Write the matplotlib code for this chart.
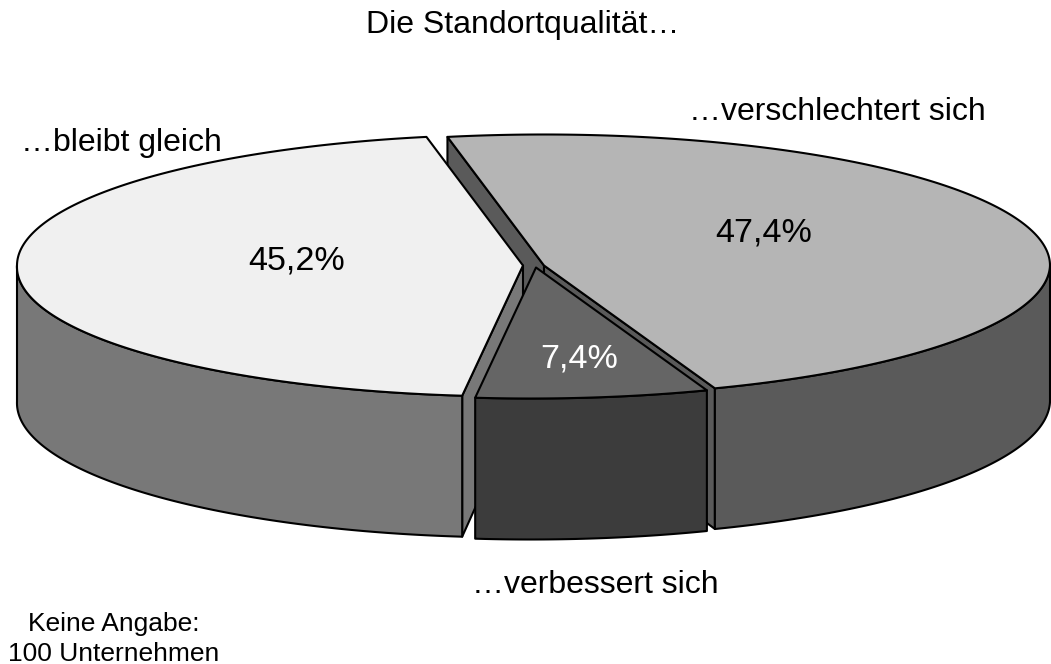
import numpy as np
import matplotlib
matplotlib.use('Agg')
import matplotlib.pyplot as plt
from matplotlib.patches import Polygon

plt.rcParams['font.family'] = ['Liberation Sans', 'DejaVu Sans']

labels = ['…verschlechtert sich', '…verbessert sich', '…bleibt gleich']
shares = [47.4, 7.4, 45.2]
share_labels = ['47,4%', '7,4%', '45,2%']
title = 'Die Standortqualität…'
note = ['Keine Angabe:', '100 Unternehmen']

top_colors = ['#b5b5b5', '#656565', '#f0f0f0']
side_colors = ['#5a5a5a', '#3c3c3c', '#787878']
tips = [(544, 265.5), (536, 267.5), (523, 265.5)]
start = -11
rx, ry, depth, ry_low = 506, 131, 136, 136
lean = 5.5


def rim(tip, a, b, low=False):
    t = np.radians(np.linspace(a, b, 200))
    # front of the pie sits a bit to the left
    x = tip[0] + rx * np.sin(t) + lean * np.minimum(np.cos(t), 0)
    if low:
        y = tip[1] + depth - ry_low * np.cos(t)
    else:
        y = tip[1] - ry * np.cos(t)
    return np.column_stack([x, y])


def patch(ax, pts, color):
    ax.add_patch(Polygon(pts, closed=True, facecolor=color, edgecolor='black',
                         linewidth=1.5, joinstyle='round'))


def cut(ax, tip, ang, color):
    e = rim(tip, ang, ang)[0]
    e2 = rim(tip, ang, ang, low=True)[0]
    patch(ax, [tip, e, e2, (tip[0], tip[1] + depth)], color)


fig = plt.figure(figsize=(10.51, 6.64), dpi=100)
ax = fig.add_axes([0, 0, 1, 1])
ax.set_xlim(0, 1051)
ax.set_ylim(664, 0)
ax.axis('off')

edges = start + np.cumsum([0] + shares) * 3.6

# right slice
a, b = edges[0], edges[1]
cut(ax, tips[0], a, side_colors[0])
cut(ax, tips[0], b, side_colors[0])
patch(ax, np.vstack([rim(tips[0], 90, b), rim(tips[0], b, 90, low=True)]), side_colors[0])
patch(ax, np.vstack([[tips[0]], rim(tips[0], a, b)]), top_colors[0])

# left slice
a, b = edges[2], edges[3]
cut(ax, tips[2], a, side_colors[2])
patch(ax, np.vstack([rim(tips[2], a, 270), rim(tips[2], 270, a, low=True)]), side_colors[2])
patch(ax, np.vstack([[tips[2]], rim(tips[2], a, b)]), top_colors[2])

# small front slice
a, b = edges[1], edges[2]
patch(ax, np.vstack([rim(tips[1], a, b), rim(tips[1], b, a, low=True)]), side_colors[1])
patch(ax, np.vstack([[tips[1]], rim(tips[1], a, b)]), top_colors[1])

fs = 23
ax.text(523, 33, title, fontsize=fs, ha='center', va='baseline')
ax.text(837, 120, labels[0], fontsize=fs, ha='center', va='baseline')
ax.text(595.5, 593, labels[1], fontsize=fs, ha='center', va='baseline')
ax.text(121.5, 151, labels[2], fontsize=fs, ha='center', va='baseline')
ax.text(764, 242, share_labels[0], fontsize=24.6, ha='center', va='baseline')
ax.text(579.5, 368, share_labels[1], fontsize=24.6, ha='center', va='baseline', color='white')
ax.text(297, 269, share_labels[2], fontsize=24.6, ha='center', va='baseline')
ax.text(113.5, 631, note[0], fontsize=19, ha='center', va='baseline')
ax.text(113.5, 661, note[1], fontsize=19, ha='center', va='baseline')

fig.savefig('out.png', dpi=100)
